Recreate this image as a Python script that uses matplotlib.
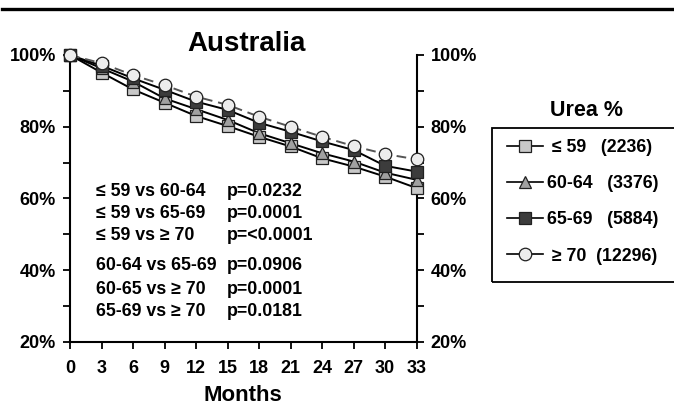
import numpy as np
import matplotlib.pyplot as plt
from matplotlib.lines import Line2D
from matplotlib.patches import Rectangle
from matplotlib.ticker import MultipleLocator, FuncFormatter

plt.rcParams['font.family'] = ['Liberation Sans', 'DejaVu Sans']
plt.rcParams['font.weight'] = 'bold'

# Дані: виживаність (%) за місяцями для груп Urea %
months = [0, 3, 6, 9, 12, 15, 18, 21, 24, 27, 30, 33]
le59 = [100, 95.1, 90.4, 86.7, 83.0, 80.2, 77.2, 74.5, 71.2, 68.9, 66.1, 62.9]
g60_64 = [100, 96.3, 92.6, 87.9, 84.9, 81.9, 78.2, 75.4, 72.6, 70.3, 67.2, 65.2]
g65_69 = [100, 97.0, 93.5, 90.3, 87.0, 84.7, 81.1, 78.6, 75.9, 73.5, 69.1, 67.5]
ge70 = [100, 97.7, 94.4, 91.6, 88.4, 86.1, 82.8, 80.0, 77.2, 74.6, 72.4, 70.9]

labels = [' \u2264 59   (2236)', '60-64   (3376)', '65-69   (5884)', ' \u2265 70  (12296)']

comparisons = ['\u2264 59 vs 60-64', '\u2264 59 vs 65-69', '\u2264 59 vs \u2265 70',
               '60-64 vs 65-69', '60-65 vs \u2265 70', '65-69 vs \u2265 70']
pvalues = ['p=0.0232', 'p=0.0001', 'p=<0.0001', 'p=0.0906', 'p=0.0001', 'p=0.0181']
text_y = [192, 213, 235, 266, 289, 312]

W, H = 674, 409
fig = plt.figure(figsize=(W / 100, H / 100), dpi=100)
ax = fig.add_axes([70 / W, 1 - 342 / H, (416.7 - 70) / W, (342 - 55) / H])

series = [
    (le59, 's', '#c8c8c8', '-', 8),
    (g60_64, '^', '#a0a0a0', '-', 9),
    (g65_69, 's', '#3c3c3c', '-', 8),
    (ge70, 'o', '#ececec', (0, (5, 3)), 9),
]
handles = []
for vals, mk, fc, ls, ms in series:
    line_col = '#555555' if ls != '-' else 'black'
    ax.plot(months, vals, color=line_col, lw=1.4, ls=ls, zorder=2, clip_on=False)
    ax.plot(months, vals, ls='none', marker=mk, ms=ms, mfc=fc, mec='#202020',
            mew=0.9, zorder=3, clip_on=False)
    handles.append(Line2D([], [], color='black', lw=1.2, marker=mk, ms=ms,
                          mfc=fc, mec='#202020', mew=0.9))

ax.set_xlim(0, 33)
ax.set_ylim(20, 100)
ax.set_xticks(months)
ax.yaxis.set_major_locator(MultipleLocator(20))
ax.yaxis.set_minor_locator(MultipleLocator(10))
ax.yaxis.set_major_formatter(FuncFormatter(lambda v, p: f'{v:.0f}%'))
for s in ['left', 'right', 'bottom']:
    ax.spines[s].set_linewidth(1.5)
ax.spines['top'].set_visible(False)
ax.tick_params(axis='both', which='both', direction='out', length=5, width=1.3,
               labelsize=13)
ax.tick_params(axis='y', which='both', right=True, labelright=True, pad=5)
ax.tick_params(axis='x', pad=8)

ax.set_xlabel('Months', fontsize=16, fontweight='bold', labelpad=6)
fig.text(246 / W, 1 - 44 / H, 'Australia', fontsize=20, fontweight='bold',
         ha='center', va='center')

for c, p, y in zip(comparisons, pvalues, text_y):
    fig.text(96 / W, 1 - y / H, c, fontsize=12.8, fontweight='bold', va='center')
    fig.text(227 / W, 1 - y / H, p, fontsize=12.8, fontweight='bold', va='center')

# Легенда
fig.patches.append(Rectangle((492 / W, 1 - 282 / H), (690 - 492) / W, (282 - 128) / H,
                             transform=fig.transFigure, fill=False, lw=1.3,
                             ec='black', clip_on=False))
fig.text(587 / W, 1 - 110 / H, 'Urea %', fontsize=15.5, fontweight='bold',
         ha='center', va='center')
fig.legend(handles, labels, loc='upper left', bbox_to_anchor=(507 / W, 1 - 139 / H),
           frameon=False, prop={'size': 12.8, 'weight': 'bold'}, handlelength=2.0,
           handletextpad=0.25, labelspacing=1.08, borderaxespad=0, borderpad=0)

# Верхня лінія
fig.add_artist(Line2D([2 / W, 1], [1 - 8.5 / H, 1 - 8.5 / H], color='black', lw=2.4,
                      transform=fig.transFigure))

fig.savefig('out.png', dpi=100)
